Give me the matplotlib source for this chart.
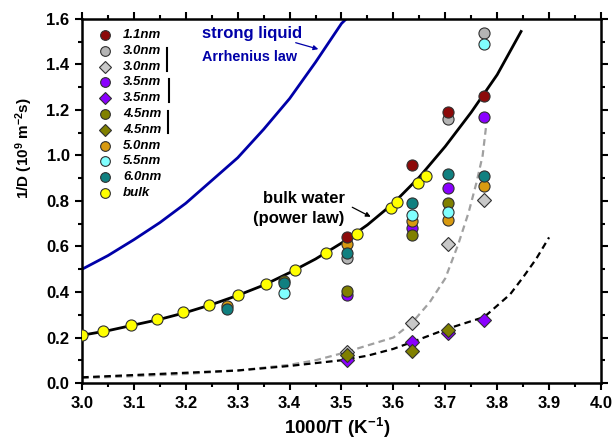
import matplotlib
matplotlib.use("Agg")
import matplotlib.pyplot as plt
from matplotlib.ticker import MultipleLocator

plt.rcParams['font.family'] = ['Liberation Sans', 'DejaVu Sans']
plt.rcParams['font.weight'] = 'bold'
plt.rcParams['axes.labelweight'] = 'bold'
plt.rcParams['mathtext.fontset'] = 'custom'
plt.rcParams['mathtext.rm'] = 'Liberation Sans:bold'
plt.rcParams['mathtext.bf'] = 'Liberation Sans:bold'
plt.rcParams['mathtext.default'] = 'bf'

# bulk water (yellow)
bulk_x = [3.0, 3.04, 3.095, 3.145, 3.195, 3.245, 3.30, 3.355, 3.41, 3.47,
          3.53, 3.595, 3.607, 3.648, 3.663]
bulk_y = [0.21, 0.23, 0.255, 0.28, 0.31, 0.345, 0.385, 0.435, 0.495, 0.57,
          0.655, 0.77, 0.795, 0.88, 0.91]

# confined water, circles / diamonds
c30_x = [3.511, 3.705, 3.775]
c30_y = [0.55, 1.16, 1.54]
d30_x = [3.511, 3.636, 3.705, 3.775]
d30_y = [0.135, 0.265, 0.61, 0.805]
c35_x = [3.511, 3.636, 3.705, 3.775]
c35_y = [0.385, 0.68, 0.855, 1.17]
d35_x = [3.511, 3.636, 3.705, 3.775]
d35_y = [0.10, 0.18, 0.22, 0.275]
c45_x = [3.389, 3.511, 3.636, 3.705]
c45_y = [0.45, 0.405, 0.65, 0.79]
d45_x = [3.511, 3.636, 3.705]
d45_y = [0.125, 0.14, 0.235]
c50_x = [3.279, 3.511, 3.636, 3.705, 3.775]
c50_y = [0.34, 0.61, 0.71, 0.715, 0.865]
c55_x = [3.389, 3.636, 3.705, 3.775]
c55_y = [0.395, 0.74, 0.75, 1.49]
c60_x = [3.279, 3.389, 3.511, 3.636, 3.705, 3.775]
c60_y = [0.325, 0.44, 0.57, 0.79, 0.92, 0.91]
c11_x = [3.511, 3.636, 3.705, 3.775]
c11_y = [0.64, 0.96, 1.19, 1.26]

# kurver lest av bildet
arr_x = [3.0, 3.05, 3.1, 3.15, 3.2, 3.25, 3.3, 3.35, 3.4, 3.45, 3.5, 3.509]
arr_y = [0.5, 0.56, 0.63, 0.705, 0.79, 0.89, 0.99, 1.115, 1.25, 1.41, 1.58, 1.6]
pow_x = [3.0, 3.05, 3.1, 3.15, 3.2, 3.25, 3.3, 3.35, 3.4, 3.45, 3.5, 3.55,
         3.6, 3.65, 3.7, 3.75, 3.8, 3.846]
pow_y = [0.21, 0.23, 0.255, 0.28, 0.31, 0.345, 0.385, 0.43, 0.485, 0.545,
         0.615, 0.695, 0.79, 0.905, 1.04, 1.19, 1.355, 1.545]
gd_x = [3.0, 3.1, 3.2, 3.3, 3.4, 3.45, 3.5, 3.55, 3.6, 3.636, 3.67, 3.70,
        3.725, 3.745, 3.76, 3.772, 3.78]
gd_y = [0.022, 0.03, 0.04, 0.055, 0.08, 0.1, 0.13, 0.165, 0.2, 0.265, 0.355,
        0.46, 0.61, 0.75, 0.88, 1.0, 1.155]
bd_x = [3.0, 3.1, 3.2, 3.3, 3.4, 3.5, 3.55, 3.6, 3.636, 3.7, 3.72, 3.775,
        3.8, 3.825, 3.85, 3.875, 3.9]
bd_y = [0.025, 0.035, 0.045, 0.055, 0.075, 0.1, 0.12, 0.15, 0.18, 0.235,
        0.25, 0.29, 0.34, 0.39, 0.465, 0.545, 0.64]

legend_labels = ["1.1nm", "3.0nm", "3.0nm", "3.5nm", "3.5nm", "4.5nm",
                 "4.5nm", "5.0nm", "5.5nm", "6.0nm", "bulk"]

col_11 = '#8c0a0a'
col_30 = '#b4b4b4'
col_30d = '#c8c8c8'
col_35 = '#8a00ff'
col_45 = '#808000'
col_50 = '#d89a10'
col_55 = '#80ffff'
col_60 = '#108080'
col_bulk = '#ffff00'

fig = plt.figure(figsize=(6.12, 4.41), dpi=100)
ax = fig.add_axes([0.134, 0.1315, 0.848, 0.8255])

ax.plot(arr_x, arr_y, color='#0000a8', lw=2.0, zorder=2)
ax.plot(pow_x, pow_y, color='black', lw=2.0, zorder=2)
ax.plot(gd_x, gd_y, color='#a0a0a0', lw=1.6, ls=(0, (3, 2)), zorder=2)
ax.plot(bd_x, bd_y, color='black', lw=1.6, ls=(0, (3, 2)), zorder=2)

ms = 8
mk = dict(ls='none', mec='#303030', mew=0.8, zorder=3)
serier = [
    (c30_x, c30_y, 'o', col_30, ms),
    (d30_x, d30_y, 'D', col_30d, ms - 1),
    (c35_x, c35_y, 'o', col_35, ms),
    (d35_x, d35_y, 'D', col_35, ms - 1),
    (c45_x, c45_y, 'o', col_45, ms),
    (d45_x, d45_y, 'D', col_45, ms - 1),
    (c50_x, c50_y, 'o', col_50, ms),
    (c55_x, c55_y, 'o', col_55, ms),
    (c60_x, c60_y, 'o', col_60, ms),
    (c11_x, c11_y, 'o', col_11, ms),
    (bulk_x, bulk_y, 'o', col_bulk, ms),
]
for sx, sy, m, c, s in serier:
    ax.plot(sx, sy, marker=m, mfc=c, ms=s, **mk)

# legende (manuelt plassert)
leg_style = [('o', col_11), ('o', col_30), ('D', col_30d), ('o', col_35),
             ('D', col_35), ('o', col_45), ('D', col_45), ('o', col_50),
             ('o', col_55), ('o', col_60), ('o', col_bulk)]
y0 = 0.956
dy = 0.0434
for i, (lab, (m, c)) in enumerate(zip(legend_labels, leg_style)):
    yy = y0 - i * dy
    ax.plot([0.044], [yy], transform=ax.transAxes, marker=m, mfc=c,
            ms=7 if m == 'o' else 6.5, mec='#303030', mew=0.8, ls='none',
            clip_on=False, zorder=4)
    ax.text(0.079, yy, lab, transform=ax.transAxes, fontsize=9.5,
            style='italic', fontweight='bold', va='center', ha='left')
for bx, b0, b1 in [(0.164, 0.920, 0.857), (0.168, 0.835, 0.772),
                   (0.166, 0.747, 0.687)]:
    ax.plot([bx, bx], [b0, b1], transform=ax.transAxes, color='black',
            lw=1.5)

ax.text(3.231, 1.538, "strong liquid", color='#0000a8', fontsize=12,
        fontweight='bold', va='center', ha='left')
ax.text(3.231, 1.433, "Arrhenius law", color='#0000a8', fontsize=10.4,
        fontweight='bold', va='center', ha='left')
ax.annotate("", xy=(3.4605, 1.464), xytext=(3.4066, 1.499),
            arrowprops=dict(arrowstyle='-|>', color='#0000a8', lw=0.9,
                            mutation_scale=7))
ax.text(3.427, 0.809, "bulk water", fontsize=12, fontweight='bold',
        va='center', ha='center')
ax.text(3.417, 0.725, "(power law)", fontsize=12, fontweight='bold',
        va='center', ha='center')
ax.annotate("", xy=(3.561, 0.725), xytext=(3.516, 0.778),
            arrowprops=dict(arrowstyle='-|>', color='black', lw=0.9,
                            mutation_scale=7))

ax.set_xlim(3.0, 4.0)
ax.set_ylim(0.0, 1.6)
ax.xaxis.set_major_locator(MultipleLocator(0.1))
ax.xaxis.set_minor_locator(MultipleLocator(0.05))
ax.yaxis.set_major_locator(MultipleLocator(0.2))
ax.yaxis.set_minor_locator(MultipleLocator(0.1))
ax.xaxis.set_major_formatter(plt.FormatStrFormatter('%.1f'))
ax.yaxis.set_major_formatter(plt.FormatStrFormatter('%.1f'))
ax.tick_params(which='both', top=True, right=True, width=1.5,
               labelsize=12)
ax.tick_params(which='major', length=5, pad=4)
ax.tick_params(which='minor', length=3)
for sp in ax.spines.values():
    sp.set_linewidth(1.8)

fig.text(337 / 612, 1 - 428 / 441, "1000/T (K$^{-1}$)", fontsize=13.5,
         fontweight='bold', ha='center', va='center')
fig.text(24 / 612, 1 - 148 / 441, "1/D (10$^{9}$ m$^{-2}$s)", fontsize=11,
         fontweight='bold', ha='center', va='center', rotation=90)

fig.savefig("out.png", dpi=100)
